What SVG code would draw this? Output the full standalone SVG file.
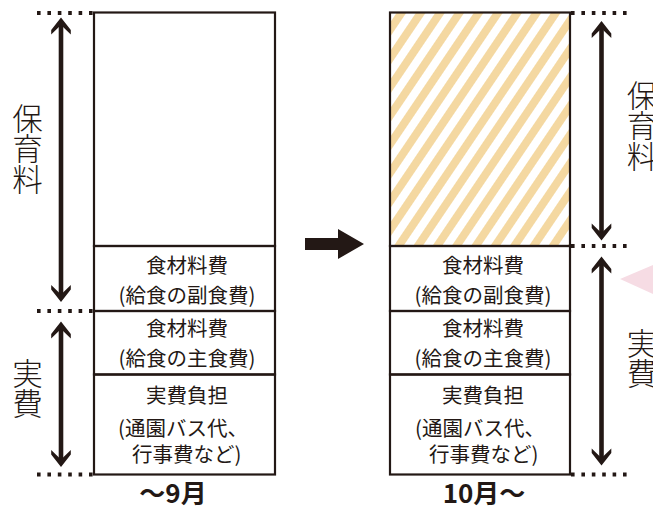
<svg xmlns="http://www.w3.org/2000/svg" xmlns:xlink="http://www.w3.org/1999/xlink" width="653" height="514" viewBox="0 0 653 514">
<style>
.box{fill:none;stroke:#231815;stroke-width:2.2}
.t{font-family:"Noto Sans CJK JP","Noto Sans",sans-serif;font-size:20.5px;fill:#231815;text-anchor:middle}
.ts{font-family:"Noto Sans CJK JP","Noto Sans",sans-serif;font-size:20.5px;fill:#231815}
.v{font-family:"Noto Sans CJK JP","Noto Sans",sans-serif;font-size:30.5px;font-weight:300;fill:#231815;writing-mode:vertical-rl}
.m{font-family:"Noto Sans CJK JP","Noto Sans",sans-serif;font-size:26px;font-weight:700;fill:#231815;text-anchor:middle}
.dot{stroke:#231815;stroke-width:4;stroke-dasharray:3.6 6.8;fill:none}
.shaft{stroke:#231815;stroke-width:4.6;fill:none}
.head{fill:#231815}
</style>
<defs>
<pattern id="stripe" patternUnits="userSpaceOnUse" width="16" height="16" patternTransform="rotate(34)">
<rect x="0" y="0" width="16" height="16" fill="#ffffff"/>
<rect x="0" y="0" width="8" height="16" fill="#f4d8a1"/>
</pattern>
<path id="ah" d="M0,0 L9.8,12.5 L9.8,17 L0,7.5 L-9.8,17 L-9.8,12.5 Z"/>
</defs>
<rect width="653" height="514" fill="#ffffff"/>

<g id="before-hoikuryo">
<rect class="box" x="94" y="12.5" width="181" height="233.5"/>
</g>
<g id="before-fukushoku">
<rect class="box" x="94" y="246" width="181" height="65"/>
<text class="t" x="187" y="272.5">食材料費</text>
<text class="t" x="187" y="302.5">(給食の副食費)</text>
</g>
<g id="before-shushoku">
<rect class="box" x="94" y="311" width="181" height="63.5"/>
<text class="t" x="187" y="336">食材料費</text>
<text class="t" x="187" y="366">(給食の主食費)</text>
</g>
<g id="before-jippi">
<rect class="box" x="94" y="374.5" width="181" height="100"/>
<text class="t" x="187" y="403">実費負担</text>
<text class="ts"><tspan x="118" y="435.5">(通園バス代、</tspan><tspan x="132" y="462">行事費など)</tspan></text>
</g>

<g id="after-hoikuryo">
<rect x="390" y="12.5" width="180" height="233.5" fill="url(#stripe)"/>
<rect class="box" x="390" y="12.5" width="180" height="233.5"/>
</g>
<g id="after-fukushoku">
<rect class="box" x="390" y="246" width="180" height="65"/>
<text class="t" x="483" y="272.5">食材料費</text>
<text class="t" x="483" y="302.5">(給食の副食費)</text>
</g>
<g id="after-shushoku">
<rect class="box" x="390" y="311" width="180" height="63.5"/>
<text class="t" x="483" y="336">食材料費</text>
<text class="t" x="483" y="366">(給食の主食費)</text>
</g>
<g id="after-jippi">
<rect class="box" x="390" y="374.5" width="180" height="100"/>
<text class="t" x="483" y="403">実費負担</text>
<text class="ts"><tspan x="415" y="435.5">(通園バス代、</tspan><tspan x="429" y="462">行事費など)</tspan></text>
</g>

<g id="connectors">
<line class="dot" x1="37" y1="13" x2="94" y2="13"/>
<line class="dot" x1="37" y1="311" x2="94" y2="311"/>
<line class="dot" x1="37" y1="474.5" x2="94" y2="474.5"/>
<line class="dot" x1="571" y1="13" x2="630" y2="13"/>
<line class="dot" x1="571" y1="246" x2="630" y2="246"/>
<line class="dot" x1="571" y1="474.5" x2="630" y2="474.5"/>

<line class="shaft" x1="61" y1="22" x2="61" y2="298"/>
<use xlink:href="#ah" class="head" transform="translate(61,17.5)"/>
<use xlink:href="#ah" class="head" transform="translate(61,302) rotate(180)"/>
<line class="shaft" x1="61" y1="326" x2="61" y2="463"/>
<use xlink:href="#ah" class="head" transform="translate(61,321.5)"/>
<use xlink:href="#ah" class="head" transform="translate(61,467) rotate(180)"/>

<line class="shaft" x1="601.5" y1="26" x2="601.5" y2="236"/>
<use xlink:href="#ah" class="head" transform="translate(601.5,21)"/>
<use xlink:href="#ah" class="head" transform="translate(601.5,240.5) rotate(180)"/>
<line class="shaft" x1="601.5" y1="261" x2="601.5" y2="461"/>
<use xlink:href="#ah" class="head" transform="translate(601.5,256.5)"/>
<use xlink:href="#ah" class="head" transform="translate(601.5,465.5) rotate(180)"/>

<path d="M305,238 L338,238 L338,229 L364,244 L338,259 L338,250 L305,250 Z" fill="#231815"/>
</g>

<polygon points="620,279 653,265 653,294" fill="#f6dce4"/>

<g id="labels">
<text class="v" x="27.5" y="103">保育料</text>
<text class="v" x="27.5" y="358">実費</text>
<text class="v" x="642" y="80">保育料</text>
<text class="v" x="642" y="328">実費</text>
<text class="m" x="173" y="503">～9月</text>
<text class="m" x="484" y="503">10月～</text>
</g>
</svg>
